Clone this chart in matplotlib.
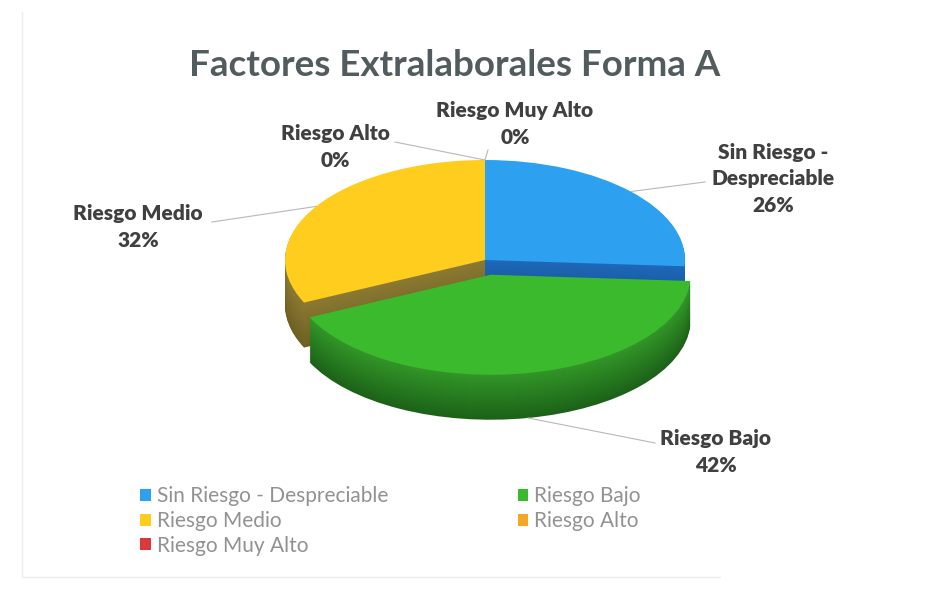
import numpy as np
import matplotlib.pyplot as plt
from matplotlib.patches import Patch
from matplotlib.transforms import Affine2D

plt.rcParams['font.family'] = ['Lato', 'DejaVu Sans']

# pie data, clockwise from 12 o'clock
categories = ['Sin Riesgo - Despreciable', 'Riesgo Bajo', 'Riesgo Medio',
              'Riesgo Alto', 'Riesgo Muy Alto']
values = [26, 42, 32, 0, 0]
label_names = ['Sin Riesgo -\nDespreciable', 'Riesgo Bajo', 'Riesgo Medio',
               'Riesgo Alto', 'Riesgo Muy Alto']
explode = [0, 0.15, 0, 0, 0]

top_colors = ['#2da0f0', '#3cba2e', '#ffcd1e', '#f5a623', '#d9393b']
side_hi = np.array([(30, 105, 185), (50, 150, 40), (140, 122, 50),
                    (200, 130, 20), (170, 40, 40)]) / 255
side_lo = np.array([(20, 75, 145), (28, 98, 24), (110, 95, 35),
                    (150, 95, 10), (120, 25, 25)]) / 255

# where each data label sits, and where its leader line leaves the text
label_pos = [(773, 179), (716, 452), (138, 227), (335, 147), (515, 124)]
line_start = [(705, 182), (655, 443), (212, 222), (395, 142), (488, 150)]

fig = plt.figure(figsize=(9.29, 5.9), dpi=100)
ax = fig.add_axes([0, 0, 1, 1])

cx, cy, rx, ry = 485, 260, 200, 100
depth = 45


def pie_layer(colors, dz):
    wedges, _ = ax.pie(values, colors=colors, startangle=90, counterclock=False,
                       explode=explode, wedgeprops=dict(linewidth=0))
    tr = Affine2D().scale(rx, -ry).translate(cx, cy + dz) + ax.transData
    for w in wedges:
        w.set_transform(tr)
    return wedges


# side walls, stacked from the bottom up and darkening with depth
for dz in range(depth, 0, -1):
    t = dz / depth
    cols = [tuple(side_hi[i] * (1 - t) + side_lo[i] * t) for i in range(len(values))]
    pie_layer(cols, dz)

wedges = pie_layer(top_colors, 0)

# data labels with leader lines
total = sum(values)
for i, w in enumerate(wedges):
    mid = np.deg2rad((w.theta1 + w.theta2) / 2)
    ex, ey = w.center
    px = cx + rx * (np.cos(mid) + ex)
    py = cy - ry * (np.sin(mid) + ey)
    if np.sin(mid) < -0.3:
        py += depth
    sx, sy = line_start[i]
    ax.plot([sx, px], [sy, py], color='#b8b8b8', lw=0.8, zorder=1)
    pct = round(100 * values[i] / total)
    ax.text(label_pos[i][0], label_pos[i][1], f'{label_names[i]}\n{pct}%',
            ha='center', va='center', fontsize=15, fontweight='heavy',
            color='#404040', linespacing=1.5)

ax.text(455, 66, 'Factores Extralaborales Forma A', ha='center', va='center',
        fontsize=26.5, fontweight='bold', color='#525c5e')

# faint chart-area border
ax.plot([22, 22, 720], [12, 577, 577], color='#ececec', lw=1)

order = [0, 2, 4, 1, 3]
handles = [Patch(facecolor=top_colors[i], edgecolor='none') for i in order]
fig.legend(handles, [categories[i] for i in order], ncol=2, loc='upper left',
           bbox_to_anchor=(130 / 929, 1 - 476 / 590), frameon=False,
           borderpad=0, handlelength=0.5, handleheight=0.5, handletextpad=0.3,
           labelspacing=0.22, columnspacing=6.2, labelcolor='#929292',
           prop=dict(family='Lato', size=15))

ax.set_xlim(0, 929)
ax.set_ylim(590, 0)
ax.set_aspect('auto')
ax.axis('off')

fig.savefig('out.png', dpi=100, facecolor='white')
